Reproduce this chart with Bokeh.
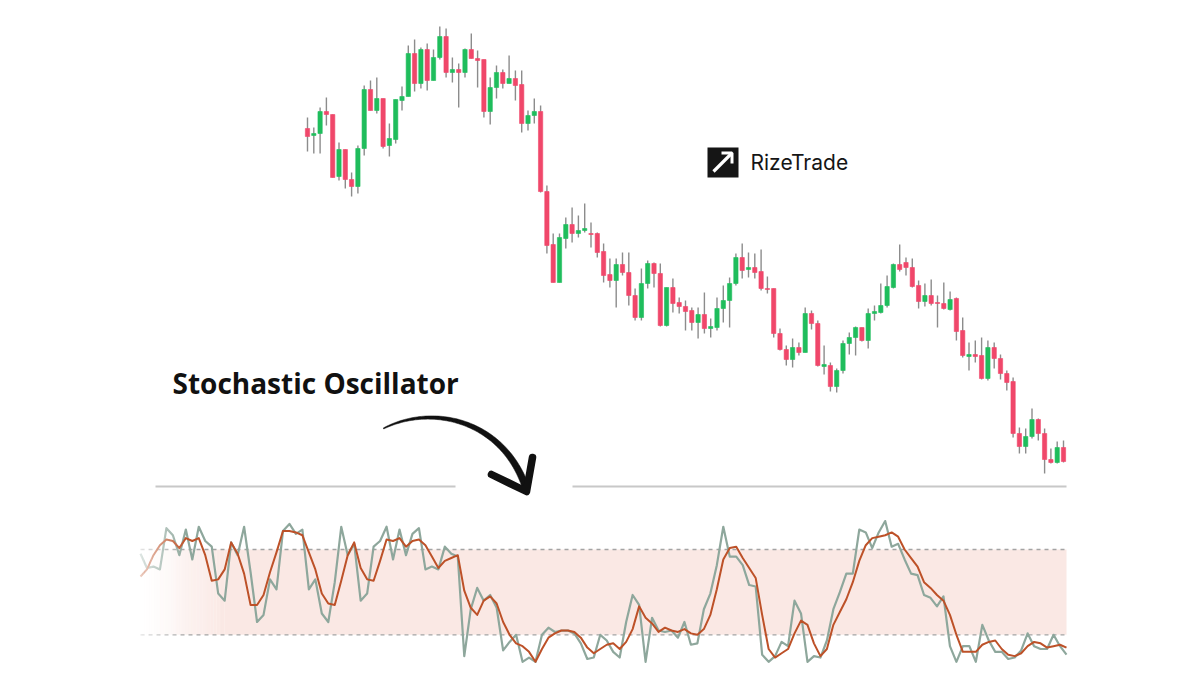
import numpy as np
from bokeh.plotting import figure
from bokeh.models import Range1d, ColumnDataSource
from bokeh.core.properties import value
from bokeh.embed import file_html
from bokeh.resources import INLINE

# ---------------- data ----------------
candle_open = [472, 465, 467, 489, 486, 424, 451, 421, 414, 452,
               511, 490, 502, 455, 461, 500, 504, 547, 517, 551,
               520, 543, 564, 528, 531, 528, 551, 542, 541, 489,
               513, 528, 517, 522, 516, 477, 485, 489, 409, 356,
               318, 362, 376, 367, 370, 367, 367, 349, 326, 320,
               336, 328, 305, 283, 317, 337, 327, 275, 313, 298,
               294, 290, 278, 286, 272, 273, 292, 300, 317, 343,
               331, 333, 329, 312, 312, 267, 251, 241, 253, 248,
               287, 277, 234, 235, 214, 230, 257, 263, 273, 260,
               287, 288, 295, 313, 336, 338, 333, 315, 299, 305,
               298, 297, 291, 302, 270, 244, 246, 245, 222, 253,
               242, 227, 219, 167, 154, 164, 181, 167, 141, 138, 153]
candle_high = [483, 473, 493, 503, 486, 458, 451, 428, 455, 515,
               520, 523, 502, 477, 501, 514, 555, 561, 553, 557,
               551, 574, 572, 543, 537, 552, 567, 550, 541, 523,
               535, 531, 545, 530, 530, 490, 502, 495, 415, 367,
               367, 383, 393, 385, 397, 378, 368, 357, 342, 342,
               348, 348, 312, 332, 340, 338, 337, 313, 322, 303,
               300, 293, 293, 308, 282, 303, 315, 323, 347, 357,
               348, 347, 351, 324, 312, 272, 255, 262, 258, 293,
               290, 280, 255, 238, 232, 260, 268, 274, 273, 292,
               295, 317, 325, 337, 356, 343, 342, 320, 317, 321,
               305, 318, 309, 303, 283, 258, 260, 263, 260, 258,
               246, 230, 223, 173, 172, 192, 182, 172, 152, 159, 160]
candle_low = [449, 447, 447, 475, 423, 420, 412, 404, 407, 445,
              490, 487, 452, 444, 457, 490, 504, 509, 512, 510,
              520, 541, 523, 518, 493, 523, 542, 513, 483, 476,
              502, 512, 517, 500, 468, 470, 477, 408, 347, 318,
              318, 352, 358, 363, 368, 353, 343, 318, 313, 293,
              325, 295, 280, 280, 312, 313, 274, 274, 288, 287,
              270, 270, 262, 267, 263, 270, 278, 273, 315, 322,
              323, 322, 310, 307, 263, 250, 235, 233, 245, 248,
              271, 234, 226, 209, 208, 227, 246, 245, 259, 252,
              280, 287, 293, 312, 329, 325, 313, 292, 294, 295,
              273, 291, 290, 260, 243, 230, 238, 221, 220, 232,
              221, 210, 163, 147, 147, 162, 160, 127, 137, 137, 138]
candle_close = [464, 467, 489, 486, 423, 451, 421, 414, 452, 511,
                490, 502, 454, 462, 501, 504, 547, 517, 551, 520,
                543, 564, 528, 531, 528, 551, 542, 540, 489, 513,
                528, 517, 522, 515, 477, 485, 489, 409, 355, 318,
                363, 376, 367, 370, 372, 366, 348, 325, 320, 336,
                328, 305, 283, 317, 337, 327, 275, 313, 297, 294,
                289, 278, 286, 272, 274, 292, 300, 317, 343, 330,
                333, 328, 312, 311, 267, 251, 241, 253, 248, 287,
                277, 235, 236, 214, 230, 257, 263, 273, 260, 287,
                289, 295, 314, 336, 331, 333, 314, 299, 305, 297,
                297, 292, 301, 269, 245, 246, 244, 222, 253, 242,
                227, 218, 167, 154, 164, 181, 167, 141, 138, 153, 139]

stoch_k = [77, 67, 68, 66, 95, 90, 76, 94, 73, 96, 86, 82, 49, 44, 85, 76, 96, 64, 29, 34,
           59, 52, 93, 98, 91, 94, 52, 59, 35, 29, 57, 96, 76,
           84, 44, 49, 82, 86, 96, 73, 94, 76, 91, 95, 66, 68, 66, 82, 77, 75, 5,
           38, 53, 44, 48, 39, 9, 15, 20, 1, 4, 1, 20, 25, 22, 23, 23, 21, 14,
           3, 4, 20, 16, 8, 4, 29, 48, 41, 1, 32, 23, 22, 23, 18, 29, 13, 14, 38,
           49, 69, 96, 75, 75, 69, 55, 54, 6, 1, 5, 15, 12, 44, 35, 1, 5, 4,
           16, 38, 50, 63, 63, 94, 92, 81, 92, 100, 82, 84, 73, 63, 62, 48, 46, 40,
           47, 12, 1, 12, 12, 1, 27, 16, 8, 8, 3, 4, 9, 21, 12, 10, 10, 20, 12, 6]
stoch_d = [61, 66, 76, 83, 87, 86, 81, 88, 86, 88, 76, 58, 59, 66, 85, 77, 63, 41, 41, 48,
           64, 78, 93, 93, 92, 90, 78, 66, 49, 42, 41, 58, 76,
           85, 67, 59, 58, 72, 87, 86, 88, 82, 86, 87, 83, 75, 67, 72, 74, 76, 51,
           39, 34, 44, 47, 42, 29, 20, 14, 12, 8, 1, 10, 18, 21, 23, 23, 22, 18,
           11, 7, 10, 13, 14, 10, 15, 24, 40, 32, 28, 22, 25, 23, 22, 24, 21, 20, 24,
           34, 52, 73, 81, 82, 74, 67, 60, 34, 10, 4, 7, 10, 21, 30, 27, 14, 5,
           10, 27, 36, 45, 57, 72, 83, 88, 89, 90, 92, 89, 80, 74, 68, 57, 53, 48,
           44, 34, 20, 8, 8, 8, 13, 15, 16, 10, 6, 5, 7, 12, 15, 14, 11, 12, 13, 11]

band_levels = [20, 80]
title_text = "Stochastic Oscillator"
brand_text = "RizeTrade"

# ---------------- styles / layout ----------------
GREEN = "#1fbd5c"
RED = "#f0476a"
WICK = "#8c8c8c"
K_COLOR = "#8ea79c"
D_COLOR = "#bd5128"
BAND = "#fae8e4"
DASH = "#a4a4a4"
SEP = "#c8c8c8"

W, H = 1100, 667
X0, X1, Y0, Y1 = 0, W, 0, H     # page pixel frame

# candle panel: index -> pixel, price units 1 px each
C_LEFT, C_STEP, C_ZERO = 307.0, 6.3, 600.0
cx_range = Range1d((X0 - C_LEFT) / C_STEP, (X1 - C_LEFT) / C_STEP)
cy_range = Range1d(C_ZERO - Y1, C_ZERO - Y0)

# oscillator panel
O_LEFT, O_RIGHT = 140.0, 1066.0
n_o = len(stoch_k)
O_STEP = (O_RIGHT - O_LEFT) / (n_o - 1)
O_Y80, O_Y20 = 549.0, 634.3
O_UNIT = (O_Y20 - O_Y80) / 60.0
O_Y0 = O_Y20 + 20 * O_UNIT
ox_range = Range1d((X0 - O_LEFT) / O_STEP, (X1 - O_LEFT) / O_STEP)
oy_range = Range1d((O_Y0 - Y1) / O_UNIT, (O_Y0 - Y0) / O_UNIT)

p = figure(width=W, height=H, x_range=Range1d(X0, X1), y_range=Range1d(Y1, Y0),
           output_backend="svg", toolbar_location=None, min_border=0,
           x_axis_location=None, y_axis_location=None,
           outline_line_color=None, background_fill_color="white",
           border_fill_color="white")
p.xgrid.visible = False
p.ygrid.visible = False
p.extra_x_ranges = {"cx": cx_range, "ox": ox_range}
p.extra_y_ranges = {"cy": cy_range, "oy": oy_range}

# ---------------- candles ----------------
o = np.array(candle_open, float)
c = np.array(candle_close, float)
csrc = ColumnDataSource(dict(
    x=np.arange(len(o)),
    high=candle_high, low=candle_low,
    top=np.maximum(o, c), bottom=np.minimum(o, c),
    color=np.where(c >= o, GREEN, RED),
))
p.segment("x", "high", "x", "low", source=csrc, line_color=WICK, line_width=1.4,
          x_range_name="cx", y_range_name="cy")
p.vbar(x="x", width=0.68, top="top", bottom="bottom", source=csrc,
       fill_color="color", line_color="color", line_width=0.6,
       x_range_name="cx", y_range_name="cy")

# ---------------- oscillator ----------------
lo, hi = band_levels
fade_end = 13.0
p.quad(left=[fade_end], right=[n_o - 1], bottom=[lo], top=[hi], fill_color=BAND,
       line_color=None, x_range_name="ox", y_range_name="oy")
n_sl = 30
edges = np.linspace(0, fade_end, n_sl + 1)
p.quad(left=edges[:-1], right=edges[1:] + 0.02, bottom=lo, top=hi, fill_color=BAND,
       fill_alpha=(np.arange(n_sl) + 0.5) / n_sl, line_color=None,
       x_range_name="ox", y_range_name="oy")
for lvl in band_levels:
    p.line([0, n_o - 1], [lvl, lvl], line_color=DASH, line_width=1.3, line_dash="4 4",
           x_range_name="ox", y_range_name="oy")

oi = np.arange(n_o)
p.line(oi, stoch_k, line_color=K_COLOR, line_width=2.2, line_join="round",
       x_range_name="ox", y_range_name="oy")
p.line(oi, stoch_d, line_color=D_COLOR, line_width=2.0, line_join="round",
       x_range_name="ox", y_range_name="oy")

# white fade on the left edge
n_f = 20
fe = np.linspace(-0.5, 7.0, n_f + 1)
p.quad(left=fe[:-1], right=fe[1:] + 0.02, bottom=-8, top=110, fill_color="white",
       fill_alpha=0.75 * (1 - (np.arange(n_f) + 0.5) / n_f), line_color=None,
       x_range_name="ox", y_range_name="oy")

# ---------------- separator ----------------
p.line([155, 455], [486, 486], line_color=SEP, line_width=2)
p.line([572, 1066], [486, 486], line_color=SEP, line_width=2)

# ---------------- title + curved arrow ----------------
p.text(x=[172], y=[382], text=[title_text], text_font=value("Open Sans"),
       text_font_style="bold", text_font_size="28px", text_color="#111111",
       text_baseline="alphabetic", text_align="left")

P = np.array([[383, 428], [432, 403], [502, 420], [525, 486]], float)
t = np.linspace(0, 1, 80)[:, None]
b = ((1 - t) ** 3) * P[0] + 3 * ((1 - t) ** 2) * t * P[1] + 3 * (1 - t) * t ** 2 * P[2] + t ** 3 * P[3]
d = 3 * ((1 - t) ** 2) * (P[1] - P[0]) + 6 * (1 - t) * t * (P[2] - P[1]) + 3 * t ** 2 * (P[3] - P[2])
nrm = np.stack([-d[:, 1], d[:, 0]], axis=1) / np.linalg.norm(d, axis=1)[:, None]
hw = (0.5 + 3.0 * t[:, 0] ** 0.8)[:, None]
left_pts = b + nrm * hw
right_pts = b - nrm * hw
poly = np.vstack([left_pts, right_pts[::-1]])
p.patch(poly[:, 0], poly[:, 1], fill_color="#111111", line_color="#111111", line_width=0.5)
p.line([491, 526, 532], [474, 491, 457], line_color="#111111", line_width=7.5,
       line_cap="round", line_join="round")

# ---------------- brand ----------------
p.quad(left=[707], right=[738], top=[147], bottom=[177], fill_color="#151515",
       line_color=None)
p.line([713, 731], [171, 153], line_color="white", line_width=3.2)
p.line([721, 731.5, 731.5], [152.5, 152.5, 163], line_color="white", line_width=3)
p.text(x=[750], y=[162], text=[brand_text], text_font=value("Inter"),
       text_font_size="21px", text_color="#151515", text_baseline="alphabetic",
       text_align="left")

open("out.html", "w").write(file_html(p, INLINE))
